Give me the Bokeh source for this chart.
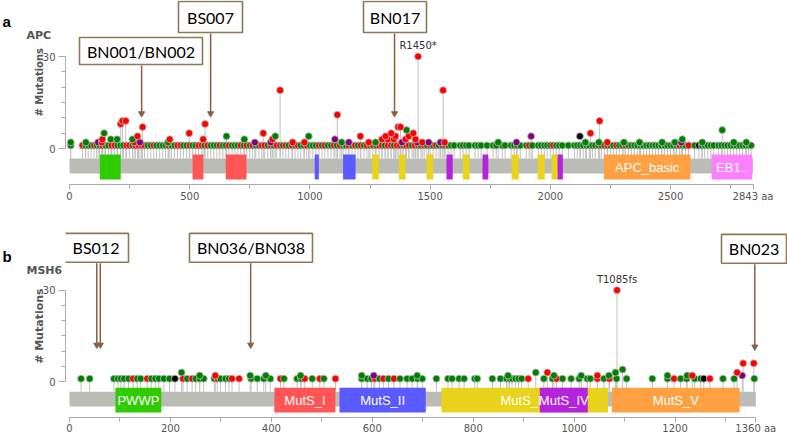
import math
from bokeh.plotting import figure
from bokeh.models import Range1d, FixedTicker, ColumnDataSource
from bokeh.layouts import column, row
from bokeh.embed import file_html
from bokeh.resources import INLINE
from bokeh.core.properties import value

# ---------------------------------------------------------------- data
apc_length = 2843
msh6_length = 1360

apc_x_ticks = [0, 500, 1000, 1500, 2000, 2500, 2843]
apc_x_minor = [250, 750, 1250, 1750, 2250, 2750]
msh6_x_ticks = [0, 200, 400, 600, 800, 1000, 1200, 1360]
msh6_x_minor = [100, 300, 500, 700, 900, 1100, 1300]
y_ticks = [0, 30]
y_minor = [5, 10, 15, 20, 25]

# APC domains
apc_dom_start = [126, 512, 650, 1020, 1138, 1259, 1370, 1485, 1568, 1636, 1718, 1839, 1947, 2005, 2030, 2223, 2671]
apc_dom_end = [213, 557, 736, 1037, 1190, 1287, 1398, 1513, 1594, 1664, 1742, 1869, 1977, 2030, 2052, 2583, 2840]
apc_dom_family = ["green", "red", "red", "blue", "blue", "yellow", "yellow", "yellow", "purple", "yellow",
                  "purple", "yellow", "yellow", "yellow", "purple", "orange", "pink"]
apc_dom_label = ["", "", "", "", "", "", "", "", "", "", "", "", "", "", "", "APC_basic", "EB1.."]

# MSH6 domains
msh6_dom_start = [91, 406, 535, 737, 932, 1075]
msh6_dom_end = [182, 527, 706, 1067, 1027, 1328]
msh6_dom_family = ["green", "red", "blue", "yellow", "purple", "orange"]
msh6_dom_label = ["PWWP", "MutS_I", "MutS_II", "MutS_III", "MutS_IV", "MutS_V"]

# APC mutations seen once (by class)
apc_single_missense = [5, 66, 78, 90, 113, 125, 150, 162, 200, 212, 224, 262, 325, 338, 362, 375, 388, 400,
                       424, 437, 474, 487, 512, 524, 562, 588, 600, 613, 638, 650, 676, 688, 700, 725, 750,
                       775, 788, 825, 850, 888, 912, 938, 962, 975, 1000, 1012, 1025, 1050, 1075, 1088, 1112,
                       1138, 1150, 1175, 1200, 1225, 1250, 1275, 1312, 1350, 1388, 1425, 1462, 1487, 1512,
                       1537, 1550, 1575, 1587, 1600, 1625, 1637, 1650, 1662, 1687, 1700, 1712, 1737, 1762,
                       1775, 1800, 1812, 1837, 1850, 1862, 1875, 1900, 1925, 1950, 1962, 1975, 1987, 2000,
                       2025, 2037, 2050, 2075, 2100, 2112, 2125, 2137, 2150, 2162, 2175, 2187, 2200, 2225,
                       2250, 2262, 2287, 2300, 2325, 2337, 2350, 2362, 2375, 2387, 2400, 2412, 2425, 2437,
                       2450, 2462, 2475, 2487, 2500, 2512, 2525, 2550, 2562, 2600, 2630, 2642, 2655, 2668,
                       2680, 2700, 2712, 2725, 2737, 2750, 2762, 2775, 2787, 2800, 2812, 2825, 2835]
apc_single_truncating = [54, 102, 137, 175, 188, 237, 249, 274, 287, 300, 312, 350, 412, 449, 462, 500, 537,
                         550, 575, 625, 663, 712, 737, 762, 800, 812, 838, 862, 876, 900, 925, 950, 987, 1038,
                         1062, 1100, 1125, 1162, 1188, 1212, 1237, 1262, 1288, 1300, 1325, 1338, 1362, 1375,
                         1400, 1412, 1437, 1450, 1475, 1500, 1525, 1562, 1912, 2012, 2212, 2237, 2275, 2312,
                         2537, 2575]
apc_single_other = [2618]

# APC recurrent positions
apc_multi_pos = [5, 68, 119, 134, 137, 144, 172, 198, 213, 220,
                 234, 262, 269, 283, 293, 304, 410, 417, 498, 556,
                 564, 653, 727, 771, 806, 837, 844, 856, 876, 928,
                 977, 995, 1104, 1114, 1132, 1162, 1210, 1245, 1273, 1300,
                 1315, 1324, 1338, 1349, 1356, 1367, 1377, 1383, 1398, 1402,
                 1411, 1430, 1439, 1446, 1450, 1467, 1494, 1543, 1554, 1560,
                 1783, 1859, 1920, 2123, 2146, 2167, 2202, 2205, 2237, 2306,
                 2371, 2465, 2518, 2545, 2549, 2632, 2715, 2763, 2815]
apc_multi_count = [2, 2, 2, 2, 3, 5, 3, 3, 8, 9,
                   9, 3, 2, 4, 2, 7, 2, 3, 5, 3,
                   8, 4, 3, 2, 5, 2, 3, 4, 19, 2,
                   2, 4, 3, 11, 2, 2, 4, 2, 2, 3,
                   4, 3, 5, 3, 4, 7, 7, 2, 3, 6,
                   4, 5, 3, 2, 30, 2, 2, 2, 19, 2,
                   2, 2, 4, 4, 2, 5, 2, 9, 2, 2,
                   2, 2, 2, 2, 3, 2, 6, 2, 2]
apc_multi_class = ["g", "g", "p", "r", "r", "g", "g", "g", "r", "r",
                   "r", "g", "r", "r", "p", "r", "g", "r", "r", "r",
                   "r", "g", "g", "p", "r", "p", "r", "g", "r", "r",
                   "r", "g", "p", "r", "g", "p", "r", "r", "g", "r",
                   "r", "r", "r", "r", "r", "r", "r", "p", "r", "g",
                   "r", "r", "r", "p", "r", "r", "p", "p", "r", "r",
                   "g", "p", "p", "k", "g", "r", "g", "r", "r", "g",
                   "g", "g", "g", "p", "g", "g", "g", "g", "g"]

# MSH6 mutations seen once
msh6_single_missense = [23, 40, 88, 96, 102, 108, 117, 134, 141, 162, 170, 177, 187, 198, 233, 250, 258, 266,
                        287, 299, 309, 316, 360, 372, 385, 398, 425, 451, 459, 481, 504, 579, 590, 598, 614,
                        632, 655, 669, 679, 690, 699, 727, 750, 758, 772, 782, 803, 808, 838, 854, 866, 872,
                        877, 884, 890, 896, 940, 957, 977, 994, 1010, 1026, 1032, 1059, 1084, 1104, 1155,
                        1185, 1211, 1223, 1239, 1251, 1295, 1317, 1357]
msh6_single_truncating = [126, 154, 225, 243, 293, 322, 336, 418, 466, 496, 527, 605, 622, 643, 909, 965,
                          1046, 1070, 1198, 1269]
msh6_single_other = [209, 1257]

msh6_multi_pos = [222, 258, 289, 358, 389, 458, 579, 603, 689, 869,
                  924, 947, 960, 1014, 1046, 1069, 1082, 1085, 1096, 1185,
                  1224, 1234, 1323, 1333, 1335, 1356]
msh6_multi_count = [3, 2, 2, 2, 2, 2, 2, 2, 2, 2,
                    3, 3, 2, 2, 2, 2, 3, 30, 4, 2,
                    2, 2, 3, 2, 6, 6]
msh6_multi_class = ["g", "g", "r", "g", "g", "g", "g", "p", "g", "g",
                    "g", "r", "g", "g", "r", "g", "g", "r", "g", "g",
                    "g", "r", "r", "p", "r", "r"]

apc_hotspot = [(1450, 30, "R1450*")]
msh6_hotspot = [(1085, 30, "T1085fs")]

apc_note_text = ["BN001/BN002", "BS007", "BN017"]
apc_note_target = [[300], [587], [1352]]
msh6_note_text = ["BS012", "BN036/BN038", "BN023"]
msh6_note_target = [[54, 61], [359], [1358]]

# ---------------------------------------------------------------- styles
MUT_COLOR = {"g": "#008000", "r": "#ff0000", "p": "#800080", "k": "#000000"}
DOM_COLOR = {"green": "#2ecc00", "red": "#ff5555", "blue": "#5a5aff", "yellow": "#e9d31c",
             "purple": "#b523dd", "orange": "#ffa143", "pink": "#ff80ff"}
PYC = 92.0 / 30.0      # px per mutation
X0 = 69                # page x of residue 0
W = 787
LEFT = 65              # width of the left text strip / y axis position

# note box geometry in px: left, right, top, bottom, arrow end
apc_note_box = [(79, 202, 37, 64, 116), (178, 242, 1, 32, 116), (363, 426, 1, 32, 116)]
msh6_note_box = [(63, 128, 233, 262, 348), (189, 312, 233, 262, 348), (721, 786, 234, 263, 350)]


def build(length, kx, fig_top, fig_h, zero_py, axis_py, single_g, single_r, single_k,
          m_pos, m_cnt, m_cls, d_start, d_end, d_fam, d_lab, xt, xm,
          note_text, note_target, note_box, hotspots):
    def dx(px):
        return (px - X0) / kx

    def dy(py):
        return (zero_py - py) / PYC

    p = figure(width=W, height=fig_h, output_backend="svg", toolbar_location=None,
               x_range=Range1d(dx(LEFT), dx(W)), y_range=Range1d(dy(axis_py), dy(fig_top)),
               min_border_left=LEFT, min_border_right=0, min_border_top=0,
               min_border_bottom=fig_top + fig_h - axis_py,
               styles={"margin-left": f"-{LEFT}px"})
    p.outline_line_color = None
    p.xgrid.visible = False
    p.ygrid.visible = False
    p.background_fill_color = "white"
    p.border_fill_color = None

    for ax in (p.xaxis[0], p.yaxis[0]):
        ax.axis_line_color = "#aaaaaa"
        ax.major_tick_line_color = "#aaaaaa"
        ax.minor_tick_line_color = "#aaaaaa"
        ax.major_tick_in = 0
        ax.minor_tick_in = 0
        ax.major_label_text_font = "DejaVu Sans"
        ax.major_label_text_font_size = "10px"
        ax.major_label_text_color = "#555555"
    xa = p.xaxis[0]
    xa.ticker = FixedTicker(ticks=xt, minor_ticks=xm)
    xa.bounds = (0, length)
    xa.major_tick_out = 5
    xa.minor_tick_out = 4
    xa.major_label_standoff = 1
    xa.major_label_overrides = {length: f"{length} aa"}
    ya = p.yaxis[0]
    ya.ticker = FixedTicker(ticks=y_ticks, minor_ticks=y_minor)
    ya.bounds = (0, 30)
    ya.major_tick_out = 7
    ya.minor_tick_out = 4
    ya.major_label_standoff = 3

    bar_top = dy(zero_py + 10)
    bar_bot = dy(zero_py + 25)
    dom_top = dy(zero_py + 6)
    dom_bot = dy(zero_py + 31)

    # protein backbone
    p.quad(left=[0], right=[length], top=[bar_top], bottom=[bar_bot],
           fill_color="#bbbcb6", line_color=None)

    # lollipops
    pos = list(single_g) + list(single_r) + list(single_k) + list(m_pos)
    cnt = [1] * (len(single_g) + len(single_r) + len(single_k)) + list(m_cnt)
    cls = ["g"] * len(single_g) + ["r"] * len(single_r) + ["k"] * len(single_k) + list(m_cls)
    order = sorted(range(len(pos)), key=lambda i: (cnt[i], pos[i]))
    src = ColumnDataSource(dict(
        x=[pos[i] for i in order],
        y=[cnt[i] for i in order],
        base=[bar_top] * len(order),
        c=[MUT_COLOR[cls[i]] for i in order]))
    p.segment(x0="x", y0="base", x1="x", y1="y", source=src, line_color="#c2c2c2", line_width=1)

    # domains
    for s, e, f, lab in zip(d_start, d_end, d_fam, d_lab):
        p.quad(left=[s], right=[e], top=[dom_top], bottom=[dom_bot],
               fill_color=DOM_COLOR[f], line_color=None)
        if lab:
            p.text(x=[(s + e) / 2], y=[(dom_top + dom_bot) / 2], text=[lab],
                   text_color="white", text_font=value("Liberation Sans"), text_font_size="13px",
                   text_align="center", text_baseline="middle")

    p.scatter(x="x", y="y", source=src, size=7, fill_color="c", line_color="#bcbcbc", line_width=0.8)

    # hotspot labels
    for hx, hc, ht in hotspots:
        p.text(x=[hx], y=[hc + 3.6], text=[ht], text_color="#333333",
               text_font=value("DejaVu Sans"), text_font_size="10px",
               text_align="center", text_baseline="middle")

    # note boxes + arrows
    for txt, tg, (bl, br, bt, bb, ae) in zip(note_text, note_target, note_box):
        p.quad(left=[dx(bl)], right=[dx(br)], top=[dy(bt)], bottom=[dy(bb)],
               fill_color="white", line_color="#8b7a57", line_width=1.6)
        p.text(x=[dx((bl + br) / 2)], y=[dy((bt + bb) / 2)], text=[txt], text_color="black",
               text_font=value("Lato"), text_font_size="16px",
               text_align="center", text_baseline="middle")
        for t in tg:
            p.segment(x0=[t], y0=[dy(bb + 1)], x1=[t], y1=[dy(ae - 4)],
                      line_color="#8a5d45", line_width=1.5)
            p.scatter(x=[t], y=[dy(ae - 3)], marker="inverted_triangle", size=6,
                      fill_color="#8a5d45", line_color="#8a5d45")
    return p


def side_texts(fig_h, letter, letter_y, gene, gene_y, ylab_y, ylab_size):
    # strip on the left holding the panel letter, gene name and y-axis title
    t = figure(width=LEFT, height=fig_h, output_backend="svg", toolbar_location=None,
               x_range=Range1d(0, LEFT), y_range=Range1d(0, fig_h), min_border=0,
               x_axis_location=None, y_axis_location=None)
    t.outline_line_color = None
    t.xgrid.visible = False
    t.ygrid.visible = False
    t.background_fill_color = None
    t.border_fill_color = None
    t.text(x=[2], y=[fig_h - letter_y], text=[letter], text_color="black",
           text_font=value("Liberation Sans"), text_font_style="bold", text_font_size="15px",
           text_align="left", text_baseline="alphabetic")
    t.text(x=[26], y=[fig_h - gene_y], text=[gene], text_color="#555555",
           text_font=value("DejaVu Sans"), text_font_style="bold", text_font_size="11px",
           text_align="left", text_baseline="alphabetic")
    t.text(x=[39], y=[fig_h - ylab_y], text=["# Mutations"], text_color="#555555",
           text_font=value("DejaVu Sans"), text_font_style="bold", text_font_size=ylab_size,
           text_align="center", text_baseline="middle", angle=math.pi / 2)
    return t


pa = build(apc_length, 683.5 / 2843, 0, 216, 148, 184,
           apc_single_missense, apc_single_truncating, apc_single_other,
           apc_multi_pos, apc_multi_count, apc_multi_class,
           apc_dom_start, apc_dom_end, apc_dom_family, apc_dom_label,
           apc_x_ticks, apc_x_minor, apc_note_text, apc_note_target, apc_note_box,
           apc_hotspot)
ta = side_texts(216, "a", 25, "APC", 41, 96, "10px")

pb = build(msh6_length, 686.3 / 1360, 216, 220, 382, 418,
           msh6_single_missense, msh6_single_truncating, msh6_single_other,
           msh6_multi_pos, msh6_multi_count, msh6_multi_class,
           msh6_dom_start, msh6_dom_end, msh6_dom_family, msh6_dom_label,
           msh6_x_ticks, msh6_x_minor, msh6_note_text, msh6_note_target, msh6_note_box,
           msh6_hotspot)
pb.xaxis[0].major_label_standoff = 0
tb = side_texts(220, "b", 44, "MSH6", 59, 120, "11px")

layout = column(row(ta, pa), row(tb, pb))

open("out.html", "w").write(file_html(layout, INLINE))
